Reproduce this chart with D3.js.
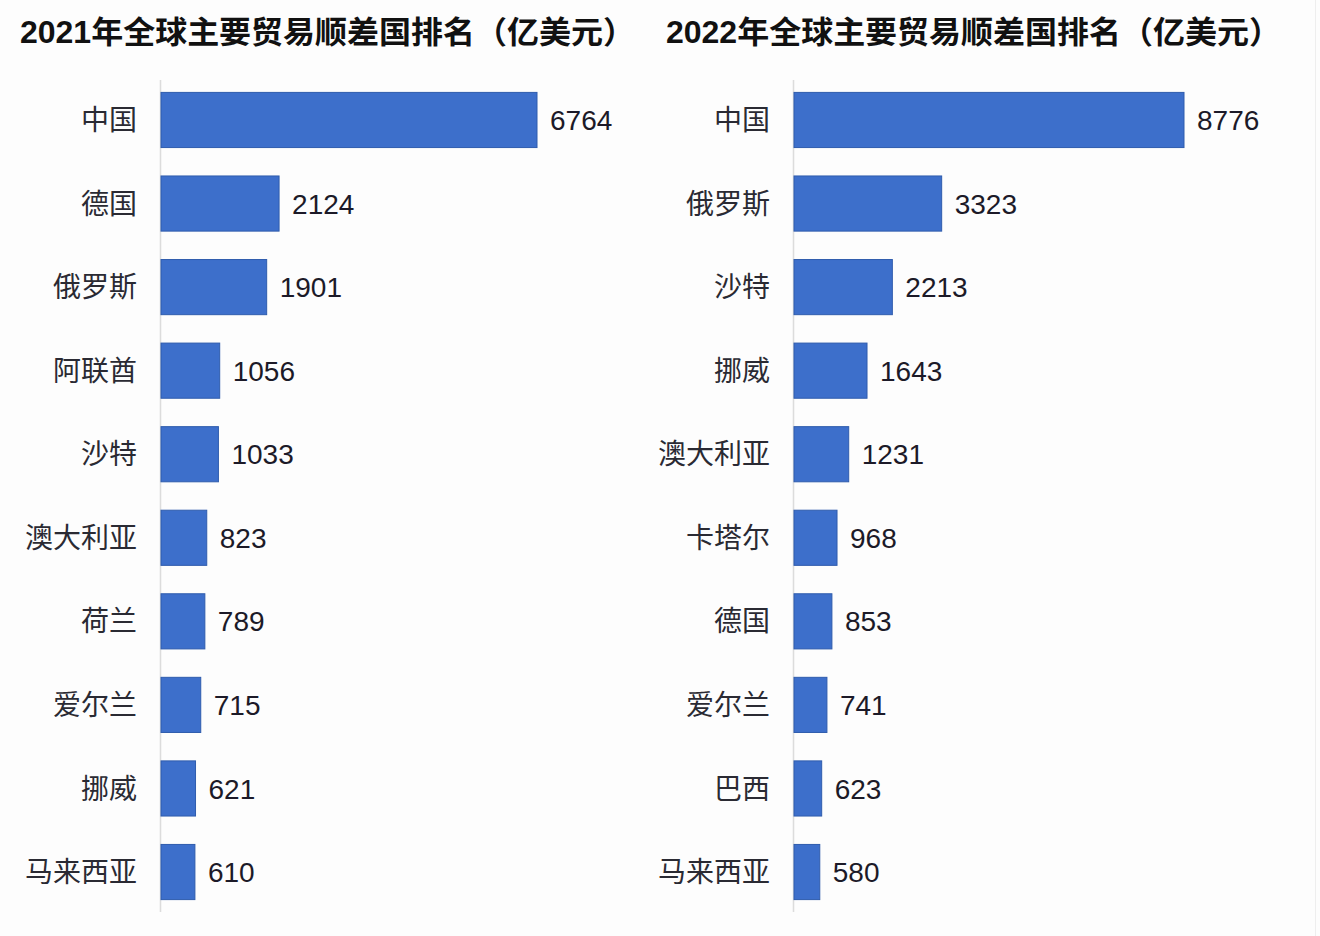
<!DOCTYPE html>
<html><head><meta charset="utf-8">
<script src="https://cdn.jsdelivr.net/npm/d3@7"></script>
<style>
html,body{margin:0;padding:0;background:#fdfdfd;}
svg{display:block;}
</style></head>
<body>
<svg id="c" width="1320" height="936"></svg>
<script>
const titles = ["2021年全球主要贸易顺差国排名（亿美元）", "2022年全球主要贸易顺差国排名（亿美元）"];
const countries2021 = ["中国","德国","俄罗斯","阿联酋","沙特","澳大利亚","荷兰","爱尔兰","挪威","马来西亚"];
const values2021 = [6764,2124,1901,1056,1033,823,789,715,621,610];
const countries2022 = ["中国","俄罗斯","沙特","挪威","澳大利亚","卡塔尔","德国","爱尔兰","巴西","马来西亚"];
const values2022 = [8776,3323,2213,1643,1231,968,853,741,623,580];

const svg = d3.select("#c");
const font = "'Noto Sans CJK SC','Noto Sans',sans-serif";
const numFont = "'Liberation Sans','Noto Sans CJK SC',sans-serif";

svg.append("rect").attr("width",1320).attr("height",936).attr("fill","#fdfdfd");
svg.append("line").attr("x1",1315.5).attr("x2",1315.5).attr("y1",0).attr("y2",936).attr("stroke","#eeeeee");

const panels = [
  {title: titles[0], cats: countries2021, vals: values2021, axisX: 161, pxPerUnit: 376/6764, titleX: 20, titleW: 615, labelX: 137},
  {title: titles[1], cats: countries2022, vals: values2022, axisX: 794, pxPerUnit: 390/8776, titleX: 666, titleW: 615, labelX: 770}
];

panels.forEach(p => {
  const g = svg.append("g");
  g.append("text").attr("x", p.titleX).attr("y", 43)
    .attr("font-family", numFont).attr("font-weight", 700).attr("font-size", 31)
    .attr("textLength", p.titleW).attr("lengthAdjust", "spacingAndGlyphs")
    .attr("fill", "#111").text(p.title);

  const maxV = d3.max(p.vals);
  const x = d3.scaleLinear().domain([0, maxV]).range([p.axisX, p.axisX + maxV * p.pxPerUnit]);
  const y = d3.scaleBand().domain(p.cats).range([78.2, 913.8]).paddingInner(0.34).paddingOuter(0.17);

  g.append("line").attr("x1", p.axisX - 0.5).attr("x2", p.axisX - 0.5)
    .attr("y1", 80).attr("y2", 912).attr("stroke", "#dcdcdc").attr("stroke-width", 1.5);

  g.selectAll("rect.bar").data(p.vals).join("rect").attr("class","bar")
    .attr("x", x(0)).attr("y", (d,i) => y(p.cats[i]))
    .attr("width", d => x(d) - x(0)).attr("height", y.bandwidth())
    .attr("fill", "#3d6fcb").attr("stroke", "#2f5cad").attr("stroke-width", 1);

  g.selectAll("text.val").data(p.vals).join("text").attr("class","val")
    .attr("x", d => x(d) + 13).attr("y", (d,i) => y(p.cats[i]) + y.bandwidth()/2)
    .attr("dy", "0.36em").attr("font-family", numFont).attr("font-size", 28)
    .attr("fill", "#1c1a28").text(d => d);

  g.selectAll("text.cat").data(p.cats).join("text").attr("class","cat")
    .attr("x", p.labelX).attr("y", d => y(d) + y.bandwidth()/2)
    .attr("dy", "0.36em").attr("text-anchor", "end").attr("font-family", font)
    .attr("font-size", 28).attr("fill", "#2a2a33").text(d => d);
});
</script>
</body></html>
